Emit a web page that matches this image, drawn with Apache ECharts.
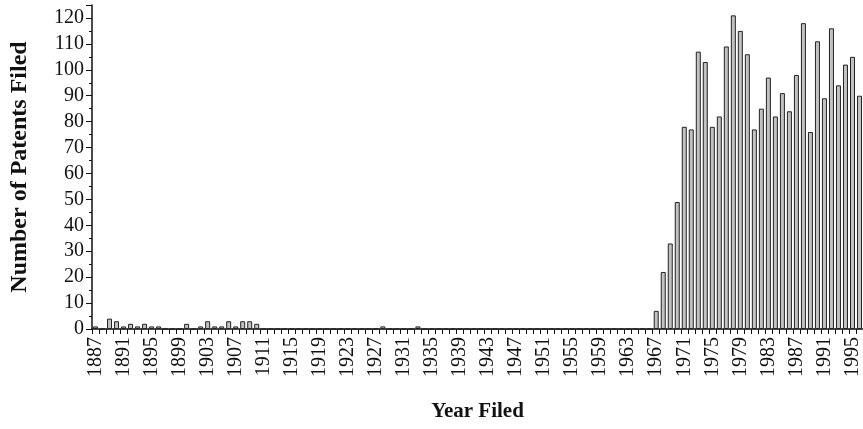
<!DOCTYPE html>
<html>
<head>
<meta charset="utf-8">
<script src="https://cdn.jsdelivr.net/npm/echarts@6/dist/echarts.min.js"></script>
<style>
  html, body { margin: 0; padding: 0; background: #fff; }
  #chart { width: 863px; height: 429px; }
</style>
</head>
<body>
<div id="chart"></div>
<script>
// years on the x axis (1996 runs off the right edge, as in the source figure)
var firstYear = 1887;
var lastYear = 1996;
var years = [];
for (var y = firstYear; y <= lastYear; y++) {
    years.push(String(y));
}

// patents filed per year
var early = [1, 0, 4, 3, 1, 2, 1, 2, 1, 1, 0, 0, 0, 2, 0, 1, 3, 1, 1, 3, 1, 3, 3, 2]; // 1887-1910
var middle = [0, 0, 0, 0, 0, 0, 0, 0, 0, 0, 0, 0, 0, 0, 0, 0, 0,   // 1911-1927
              1, 0, 0, 0, 0, 1,                                     // 1928-1933
              0, 0, 0, 0, 0, 0, 0, 0, 0, 0, 0, 0, 0, 0, 0, 0, 0,   // 1934-1950
              0, 0, 0, 0, 0, 0, 0, 0, 0, 0, 0, 0, 0, 0, 0, 0];     // 1951-1966
var late = [7, 22, 33, 49, 78, 77, 107, 103, 78, 82, 109, 121, 115, 106, 77,
            85, 97, 82, 91, 84, 98, 118, 76, 111, 89, 116, 94, 102, 105, 90]; // 1967-1996
var counts = early.concat(middle, late);

var chart = echarts.init(document.getElementById('chart'));
var serif = '"Liberation Serif", "Times New Roman", serif';
var option = {
    animation: false,
    grid: {
        left: 88,
        top: 5,
        bottom: 100,
        width: 778
    },
    xAxis: {
        type: 'category',
        data: years,
        name: 'Year Filed',
        nameLocation: 'middle',
        nameGap: 72,
        nameTextStyle: { fontFamily: serif, fontWeight: 'bold', fontSize: 21, color: '#111' },
        axisLine: { lineStyle: { color: '#111', width: 1.5 } },
        axisTick: { show: true, interval: 0, length: 5, lineStyle: { color: '#111' } },
        axisLabel: {
            interval: 3,
            rotate: 90,
            margin: 8,
            fontFamily: serif,
            fontSize: 20,
            color: '#111'
        },
        splitLine: { show: false }
    },
    yAxis: {
        type: 'value',
        min: 0,
        max: 125,
        interval: 10,
        name: 'Number of Patents Filed',
        nameLocation: 'middle',
        nameGap: 60,
        nameTextStyle: { fontFamily: serif, fontWeight: 'bold', fontSize: 24, color: '#111' },
        axisLine: { show: true, lineStyle: { color: '#111', width: 1.5 } },
        axisTick: { show: true, length: 6, lineStyle: { color: '#111' } },
        minorTick: { show: true, splitNumber: 2, length: 3, lineStyle: { color: '#111' } },
        axisLabel: {
            showMaxLabel: false,
            margin: 8,
            fontFamily: serif,
            fontSize: 20,
            color: '#111'
        },
        splitLine: { show: false }
    },
    series: [{
        type: 'bar',
        data: counts,
        barWidth: 5,
        itemStyle: {
            color: '#c2c2c2',
            borderColor: '#222',
            borderWidth: 1
        }
    }]
};
chart.setOption(option);
</script>
</body>
</html>
